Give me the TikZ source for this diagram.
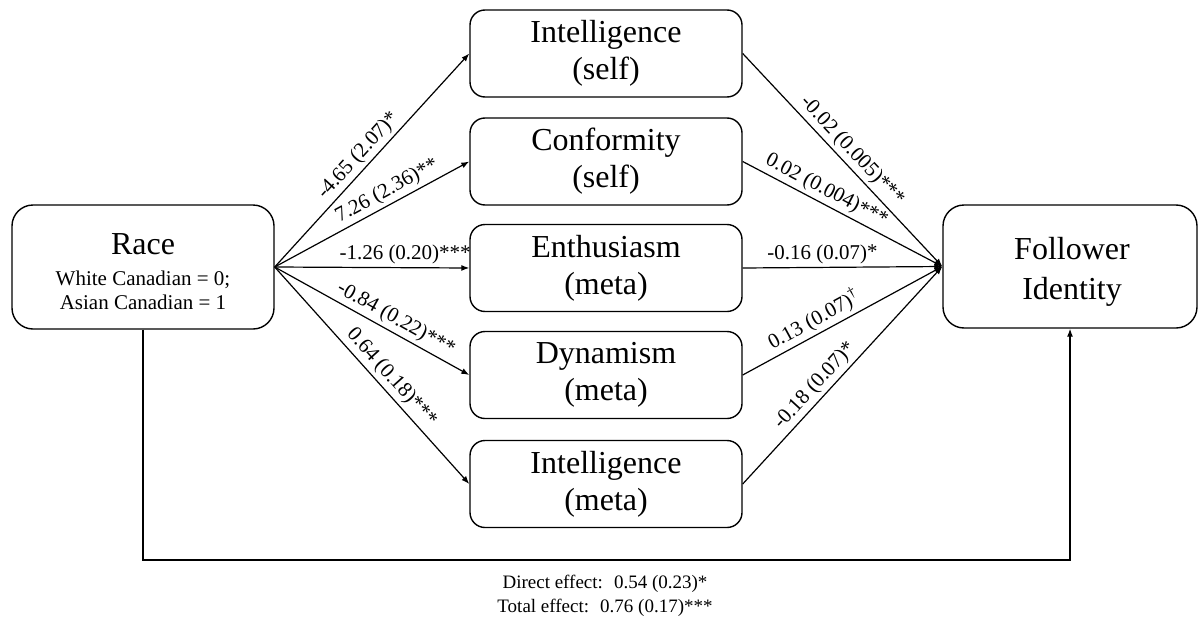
\documentclass[tikz,border=0pt]{standalone}
\usepackage{fontspec}
\setmainfont{Liberation Serif}
\usetikzlibrary{arrows.meta}
\begin{document}
\begin{tikzpicture}[x=1pt,y=-1pt,
  box/.style={draw, line width=1.4pt, rounded corners=15pt, minimum width=272pt,
    minimum height=87pt, align=center, inner sep=0pt,
    font=\fontsize{32}{37}\selectfont},
  bigbox/.style={draw, line width=1.4pt, rounded corners=21pt, inner sep=0pt},
  bigtext/.style={anchor=base, inner sep=0pt, font=\fontsize{32}{37}\selectfont},
  smalltext/.style={anchor=base, inner sep=0pt, font=\fontsize{21}{25}\selectfont},
  link/.style={draw, line width=1.2pt, -{Latex[length=8pt,width=6pt]}},
  lab/.style={font=\fontsize{21}{25}\selectfont, sloped, above, inner sep=3pt}
]
\useasboundingbox (0,0) rectangle (1198,618);

% predictor
\node[bigbox, minimum width=262pt, minimum height=124pt] (race) at (143,267) {};
\node[bigtext] (racet) at (143,254) {Race};
\node[smalltext] (race1) at (143,285) {White Canadian = 0;};
\node[smalltext] (race2) at (143,309) {Asian Canadian = 1};

% outcome
\node[bigbox, minimum width=254pt, minimum height=123pt] (fol) at (1070,266.5) {};
\node[bigtext] (fol1) at (1072,259) {Follower};
\node[bigtext] (fol2) at (1072,299) {Identity};

% mediators
\node[box] (is) at (606,53.5) {Intelligence\\(self)};
\node[box] (cs) at (606,161.5) {Conformity\\(self)};
\node[box] (em) at (606,268) {Enthusiasm\\(meta)};
\node[box] (dm) at (606,375) {Dynamism\\(meta)};
\node[box] (im) at (606,484) {Intelligence\\(meta)};

% a paths
\draw[link] (race.east) -- node[lab, pos=0.48] {-4.65 (2.07)*} (is.west);
\draw[link] (race.east) -- node[lab, pos=0.61] {7.26 (2.36)**} (cs.west);
\draw[link] (race.east) -- node[lab, pos=0.67] {-1.26 (0.20)***} (em.west);
\draw[link] (race.east) -- node[lab, pos=0.59] {-0.84 (0.22)***} (dm.west);
\draw[link] (race.east) -- node[lab, pos=0.55] {0.64 (0.18)***} (im.west);

% b paths
\draw[link] (is.east) -- node[lab, pos=0.50] {-0.02 (0.005)***} (fol.west);
\draw[link] (cs.east) -- node[lab, pos=0.39] {0.02 (0.004)***} (fol.west);
\draw[link] (em.east) -- node[lab, pos=0.40] {-0.16 (0.07)*} (fol.west);
\draw[link] (dm.east) -- node[lab, pos=0.39] {0.13 (0.07)\textsuperscript{†}} (fol.west);
\draw[link] (im.east) -- node[lab, pos=0.41] {-0.18 (0.07)*} (fol.west);

% direct path
\coordinate (bot) at (600,560);
\draw[link] (race.south) |- (bot) -| (fol.south);

\node[anchor=base, inner sep=0pt, font=\fontsize{19}{24}\selectfont] (direct) at (605,588) {Direct effect:~ 0.54 (0.23)*};
\node[anchor=base, inner sep=0pt, font=\fontsize{19}{24}\selectfont] (total) at (605,612) {Total effect:~ 0.76 (0.17)***};
\end{tikzpicture}
\end{document}
